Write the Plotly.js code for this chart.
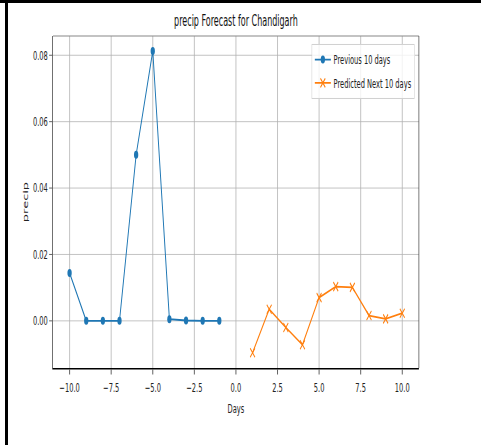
<!DOCTYPE html>
<html>
<head>
<meta charset="utf-8">
<script src="https://cdn.plot.ly/plotly-3.0.1.min.js"></script>
<style>
  html, body { margin: 0; padding: 0; background: #fff; overflow: hidden; }
  #frame { position: absolute; left: 0; top: 0; width: 481px; height: 445px; overflow: hidden; }
  /* the figure is laid out wide and compressed horizontally */
  #chart { position: absolute; left: 0; top: 0; transform-origin: 0 0; }
  #edgeLeft { position: absolute; left: 5px; top: 0; width: 3px; height: 445px; background: #000; }
  #edgeTop { position: absolute; left: 0; top: 0; width: 481px; height: 3px; background: #000; }
</style>
</head>
<body>
<div id="frame">
  <div id="chart"></div>
  <div id="edgeLeft"></div>
  <div id="edgeTop"></div>
</div>
<script>
// Observed precipitation for the previous 10 days
const daysPrev = [-10, -9, -8, -7, -6, -5, -4, -3, -2, -1];
const precipPrev = [0.0144, 0.0, 0.0, 0.0, 0.0500, 0.0813, 0.0005, 0.0001, 0.0, 0.0];

// Model forecast for the next 10 days
const daysNext = [1, 2, 3, 4, 5, 6, 7, 8, 9, 10];
const precipNext = [-0.0096, 0.0035, -0.0020, -0.0072, 0.0070, 0.0103, 0.0101, 0.0016, 0.0006, 0.0023];

const xTicks = [-10, -7.5, -5, -2.5, 0, 2.5, 5, 7.5, 10];
const yTicks = [0, 0.02, 0.04, 0.06, 0.08];

const SQUEEZE = 0.535;
const W = Math.round(481 / SQUEEZE);
const H = 445;
const FONT = 'DejaVu Sans, sans-serif';

const chart = document.getElementById('chart');
chart.style.width = W + 'px';
chart.style.height = H + 'px';
chart.style.transform = 'scaleX(' + SQUEEZE + ')';

const ml = Math.round(53 / SQUEEZE);
const mr = W - Math.round(419 / SQUEEZE);

const traces = [
  {
    x: daysPrev, y: precipPrev, name: 'Previous 10 days',
    type: 'scatter', mode: 'lines+markers', legendgroup: 'a',
    line: { color: '#1f77b4', width: 1.8 },
    marker: { symbol: 'circle', size: 8, color: '#1f77b4' }
  },
  {
    x: daysNext, y: precipNext, name: 'Predicted Next 10 days',
    type: 'scatter', mode: 'lines+markers', legendgroup: 'b',
    line: { color: '#ff7f0e', width: 1.8 },
    marker: { symbol: 'x-thin-open', size: 9, line: { color: '#ff7f0e', width: 1.6 } }
  }
];

const layout = {
  width: W, height: H,
  margin: { l: ml, r: mr, t: 36, b: 77, pad: 0 },
  paper_bgcolor: 'rgba(0,0,0,0)',
  plot_bgcolor: '#fff',
  font: { family: FONT, size: 12.5, color: '#222' },
  title: {
    text: 'precip Forecast for Chandigarh',
    font: { family: FONT, size: 15, color: '#111' },
    x: 0.5, xref: 'paper', xanchor: 'center',
    y: 1 - 21 / H, yref: 'container', yanchor: 'middle'
  },
  xaxis: {
    range: [-11, 11], tickvals: xTicks, tickformat: '.1f',
    ticks: 'outside', ticklen: 5, tickcolor: '#333', tickwidth: 1,
    ticklabelstandoff: 3,
    showgrid: true, gridcolor: '#b0b0b0', gridwidth: 1,
    zeroline: false, showline: true, linecolor: '#000', linewidth: 1.5, mirror: false,
    title: { text: 'Days', font: { family: FONT, size: 12.5, color: '#222' }, standoff: 10 }
  },
  yaxis: {
    range: [-0.0142, 0.0858], tickvals: yTicks, tickformat: '.2f',
    ticks: 'outside', ticklen: 6, tickcolor: '#333', tickwidth: 1,
    showgrid: true, gridcolor: '#b0b0b0', gridwidth: 1,
    zeroline: false, showline: true, linecolor: '#222', linewidth: 1.2, mirror: false,
    title: { text: 'precip', font: { family: FONT, size: 13, color: '#222' }, standoff: 5 }
  },
  shapes: [
    { type: 'line', xref: 'paper', yref: 'paper', x0: 0, x1: 1, y0: 1, y1: 1,
      line: { color: '#888', width: 1.2 } },
    { type: 'line', xref: 'paper', yref: 'paper', x0: 1, x1: 1, y0: 0, y1: 1,
      line: { color: '#333', width: 1.2 } }
  ],
  showlegend: true,
  legend: {
    x: 0.989, xanchor: 'right', y: 0.976, yanchor: 'top',
    bgcolor: 'rgba(255,255,255,0.8)', bordercolor: '#d0d0d0', borderwidth: 1,
    font: { family: FONT, size: 12.5, color: '#222' },
    traceorder: 'grouped', tracegroupgap: 4
  }
};

Plotly.newPlot(chart, traces, layout, { displayModeBar: false, staticPlot: true });
</script>
</body>
</html>
